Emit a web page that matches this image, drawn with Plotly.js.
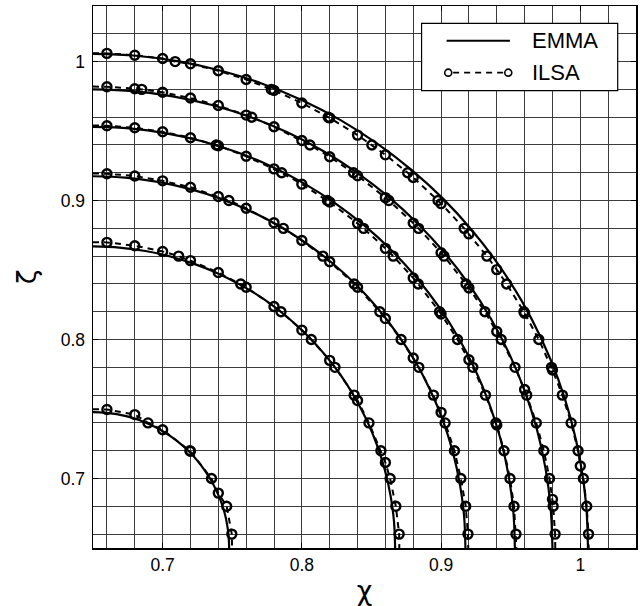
<!DOCTYPE html>
<html>
<head>
<meta charset="utf-8">
<script src="https://cdn.plot.ly/plotly-3.0.1.min.js"></script>
<style>html,body{margin:0;padding:0;background:#fff;}#chart{width:643px;height:606px;}</style>
</head>
<body>
<div id="chart"></div>
<script>
// ---- EMMA (solid curves) ----
const emma1X = [0.65,0.681,0.7117,0.742,0.7716,0.8002,0.8278,0.8539,0.8785,0.9014,0.9223,0.9412,0.9579,0.9722,0.9841,0.9934,1.0001,1.0042,1.0055];
const emma1Y = [1.0055,1.0042,1.0001,0.9934,0.9841,0.9722,0.9579,0.9412,0.9223,0.9014,0.8785,0.8539,0.8278,0.8002,0.7716,0.742,0.7117,0.681,0.65];
const emma2X = [0.65,0.6788,0.7073,0.7354,0.7629,0.7895,0.815,0.8393,0.8621,0.8833,0.9028,0.9203,0.9358,0.9491,0.9601,0.9688,0.975,0.9787,0.98];
const emma2Y = [0.98,0.9787,0.975,0.9688,0.9601,0.9491,0.9358,0.9203,0.9028,0.8833,0.8621,0.8393,0.815,0.7895,0.7629,0.7354,0.7073,0.6788,0.65];
const emma3X = [0.65,0.6764,0.7026,0.7284,0.7536,0.7781,0.8015,0.8238,0.8448,0.8643,0.8821,0.8982,0.9124,0.9246,0.9347,0.9427,0.9484,0.9519,0.953];
const emma3Y = [0.953,0.9519,0.9484,0.9427,0.9347,0.9246,0.9124,0.8982,0.8821,0.8643,0.8448,0.8238,0.8015,0.7781,0.7536,0.7284,0.7026,0.6764,0.65];
const emma4X = [0.65,0.6733,0.6965,0.7192,0.7415,0.7631,0.7838,0.8034,0.822,0.8392,0.8549,0.8691,0.8817,0.8924,0.9014,0.9084,0.9134,0.9165,0.9175];
const emma4Y = [0.9175,0.9165,0.9134,0.9084,0.9014,0.8924,0.8817,0.8691,0.8549,0.8392,0.822,0.8034,0.7838,0.7631,0.7415,0.7192,0.6965,0.6733,0.65];
const emma5X = [0.65,0.6689,0.6877,0.7062,0.7242,0.7417,0.7585,0.7745,0.7895,0.8034,0.8162,0.8278,0.8379,0.8467,0.8539,0.8596,0.8637,0.8662,0.867];
const emma5Y = [0.867,0.8662,0.8637,0.8596,0.8539,0.8467,0.8379,0.8278,0.8162,0.8034,0.7895,0.7745,0.7585,0.7417,0.7242,0.7062,0.6877,0.6689,0.65];
const emma6X = [0.65,0.6585,0.667,0.6753,0.6835,0.6913,0.6989,0.7061,0.7129,0.7192,0.7249,0.7301,0.7347,0.7386,0.7419,0.7445,0.7463,0.7474,0.7478];
const emma6Y = [0.7478,0.7474,0.7463,0.7445,0.7419,0.7386,0.7347,0.7301,0.7249,0.7192,0.7129,0.7061,0.6989,0.6913,0.6835,0.6753,0.667,0.6585,0.65];

// ---- ILSA (dashed curves with circles); first and last entries are the edge ends ----
const ilsa1X = [0.65,0.66,0.68,0.70,0.709,0.72,0.74,0.76,0.7781,0.78,0.80,0.8189,0.82,0.84,0.8503,0.86,0.876,0.88,0.8978,0.90,0.9166,0.92,0.9329,0.94,0.9471,0.9595,0.96,0.9702,0.9793,0.98,0.9871,0.9934,0.9984,1.00,1.0022,1.0046,1.0059,1.006];
const ilsa1Y = [1.006,1.0059,1.0046,1.0022,1.00,0.9984,0.9934,0.9871,0.98,0.9793,0.9702,0.96,0.9595,0.9471,0.94,0.9329,0.92,0.9166,0.90,0.8978,0.88,0.876,0.86,0.8503,0.84,0.82,0.8189,0.80,0.78,0.7781,0.76,0.74,0.72,0.709,0.70,0.68,0.66,0.65];
const ilsa2X = [0.65,0.66,0.68,0.685,0.70,0.72,0.74,0.76,0.764,0.78,0.80,0.8058,0.82,0.8371,0.84,0.86,0.8625,0.88,0.8838,0.90,0.9021,0.9179,0.92,0.9315,0.94,0.9432,0.9531,0.96,0.9615,0.9684,0.9738,0.9779,0.98,0.9805,0.9819,0.982];
const ilsa2Y = [0.982,0.9819,0.9805,0.98,0.9779,0.9738,0.9684,0.9615,0.96,0.9531,0.9432,0.94,0.9315,0.92,0.9179,0.9021,0.90,0.8838,0.88,0.8625,0.86,0.84,0.8371,0.82,0.8058,0.80,0.78,0.764,0.76,0.74,0.72,0.70,0.685,0.68,0.66,0.65];
const ilsa3X = [0.65,0.66,0.68,0.70,0.72,0.7385,0.74,0.76,0.78,0.7855,0.80,0.8184,0.82,0.84,0.8443,0.86,0.8656,0.88,0.8836,0.8989,0.90,0.9118,0.92,0.9228,0.9319,0.9394,0.94,0.9452,0.9495,0.9524,0.9538,0.9541];
const ilsa3Y = [0.9541,0.9538,0.9524,0.9495,0.9452,0.94,0.9394,0.9319,0.9228,0.92,0.9118,0.90,0.8989,0.8836,0.88,0.8656,0.86,0.8443,0.84,0.82,0.8184,0.80,0.7855,0.78,0.76,0.74,0.7385,0.72,0.70,0.68,0.66,0.65];
const ilsa4X = [0.65,0.66,0.68,0.70,0.72,0.74,0.7476,0.76,0.78,0.7867,0.80,0.8151,0.82,0.8376,0.84,0.856,0.86,0.8713,0.88,0.884,0.8945,0.90,0.9029,0.9096,0.9142,0.9177,0.9193,0.9195];
const ilsa4Y = [0.9195,0.9193,0.9177,0.9142,0.9096,0.9029,0.90,0.8945,0.884,0.88,0.8713,0.86,0.856,0.84,0.8376,0.82,0.8151,0.80,0.7867,0.78,0.76,0.7476,0.74,0.72,0.70,0.68,0.66,0.65];
const ilsa5X = [0.65,0.66,0.68,0.70,0.7115,0.72,0.74,0.7561,0.76,0.78,0.785,0.80,0.8068,0.82,0.8238,0.8376,0.84,0.8482,0.8568,0.86,0.8634,0.8675,0.8699,0.870];
const ilsa5Y = [0.870,0.8699,0.8675,0.8634,0.86,0.8568,0.8482,0.84,0.8376,0.8238,0.82,0.8068,0.80,0.785,0.78,0.76,0.7561,0.74,0.72,0.7115,0.70,0.68,0.66,0.65];
const ilsa6X = [0.65,0.66,0.68,0.6895,0.70,0.7196,0.72,0.7351,0.74,0.746,0.7497,0.7499];
const ilsa6Y = [0.7499,0.7497,0.746,0.74,0.7351,0.72,0.7196,0.70,0.6895,0.68,0.66,0.65];

const seriesNames = ['EMMA', 'ILSA'];
const xTitle = 'χ';
const yTitle = 'ζ';

const emmaSets = [[emma1X,emma1Y],[emma2X,emma2Y],[emma3X,emma3Y],[emma4X,emma4Y],[emma5X,emma5Y],[emma6X,emma6Y]];
const ilsaSets = [[ilsa1X,ilsa1Y],[ilsa2X,ilsa2Y],[ilsa3X,ilsa3Y],[ilsa4X,ilsa4Y],[ilsa5X,ilsa5Y],[ilsa6X,ilsa6Y]];

const traces = [];
emmaSets.forEach(function(s){
  traces.push({x:s[0], y:s[1], type:'scatter', mode:'lines', name:seriesNames[0], showlegend:false,
    line:{color:'#000', width:2.2, shape:'spline', smoothing:1}, hoverinfo:'skip'});
});
ilsaSets.forEach(function(s){
  traces.push({x:s[0], y:s[1], type:'scatter', mode:'lines', name:seriesNames[1], showlegend:false,
    line:{color:'#000', width:2, dash:'6px,5px'}, hoverinfo:'skip'});
  traces.push({x:s[0].slice(1,-1), y:s[1].slice(1,-1), type:'scatter', mode:'markers', name:seriesNames[1], showlegend:false,
    marker:{symbol:'circle-open', size:9, color:'#000', line:{width:2.4, color:'#000'}}, hoverinfo:'skip'});
});

const FONT = 'Liberation Sans, Arial, Helvetica, sans-serif';
const GFONT = 'DejaVu Sans, sans-serif';
const gridColor = '#3c3c3c';
function axis(titleText){
  return {
    range:[0.65,1.04], dtick:0.1, tick0:0, showgrid:true, gridcolor:gridColor, gridwidth:1,
    minor:{dtick:0.02, tick0:0, showgrid:true, gridcolor:gridColor, gridwidth:1},
    zeroline:false, showline:true, linecolor:'#000', linewidth:1.5, mirror:'ticks',
    ticks:'inside', ticklen:5, tickcolor:'#000', tickwidth:1,
    tickfont:{family:FONT, size:17.5, color:'#000'},
    title:{text:titleText, font:{family:GFONT, size:27, color:'#000'}}
  };
}
const xa = axis(xTitle); xa.title.standoff = 12;
const ya = axis(yTitle); ya.title.standoff = 16; ya.ticklabelstandoff = 3;

// legend geometry in paper coordinates
const lgX0 = 0.6051, lgX1 = 0.9663, lgY0 = 0.8437, lgY1 = 0.9681;
const row1 = 0.936, row2 = 0.877, lnA = 0.6512, lnB = 0.7678, txtX = 0.8046;

const shapes = [
  {type:'rect', xref:'paper', yref:'paper', x0:lgX0, x1:lgX1, y0:lgY0, y1:lgY1, fillcolor:'#fff', line:{color:'#000', width:1.2}, layer:'above'},
  {type:'line', xref:'paper', yref:'paper', x0:lnA, x1:lnB, y0:row1, y1:row1, line:{color:'#000', width:2}, layer:'above'},
  {type:'line', xref:'paper', yref:'paper', x0:lnA+0.012, x1:lnB-0.012, y0:row2, y1:row2, line:{color:'#000', width:1.8, dash:'6px,5px'}, layer:'above'},
  {type:'circle', xref:'paper', yref:'paper', xsizemode:'pixel', ysizemode:'pixel', xanchor:lnA+0.003, yanchor:row2, x0:-3.5, x1:3.5, y0:-3.5, y1:3.5, line:{color:'#000', width:1.6}, fillcolor:'#fff', layer:'above'},
  {type:'circle', xref:'paper', yref:'paper', xsizemode:'pixel', ysizemode:'pixel', xanchor:lnB-0.003, yanchor:row2, x0:-3.5, x1:3.5, y0:-3.5, y1:3.5, line:{color:'#000', width:1.6}, fillcolor:'#fff', layer:'above'}
];
const annotations = [
  {xref:'paper', yref:'paper', x:txtX, y:row1, xanchor:'left', yanchor:'middle', text:seriesNames[0], showarrow:false, font:{family:FONT, size:22, color:'#000'}},
  {xref:'paper', yref:'paper', x:txtX, y:row2, xanchor:'left', yanchor:'middle', text:seriesNames[1], showarrow:false, font:{family:FONT, size:22, color:'#000'}}
];

const layout = {
  width:643, height:606,
  margin:{l:93, r:7, t:6, b:58},
  paper_bgcolor:'#fff', plot_bgcolor:'#fff',
  showlegend:false,
  xaxis:xa, yaxis:ya,
  shapes:shapes, annotations:annotations,
  font:{family:FONT, color:'#000'}
};
Plotly.newPlot('chart', traces, layout, {staticPlot:true, displayModeBar:false});
</script>
</body>
</html>
